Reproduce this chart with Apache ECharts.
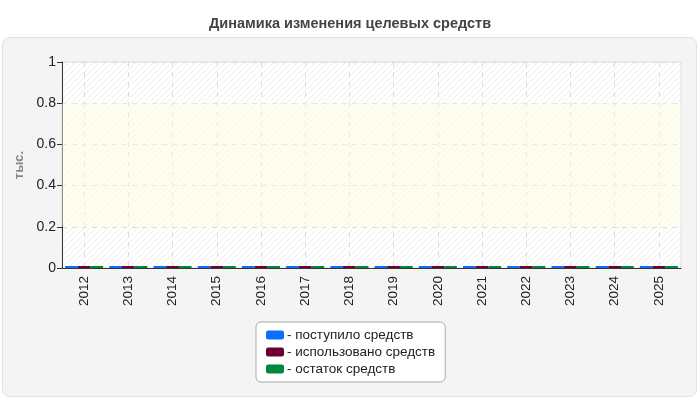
<!DOCTYPE html>
<html><head><meta charset="utf-8">
<script src="https://cdn.jsdelivr.net/npm/echarts@6/dist/echarts.min.js"></script>
<style>html,body{margin:0;padding:0;background:#fff}#c{width:700px;height:400px}</style>
</head><body><div id="c"></div>
<script>
var categories = ['2012','2013','2014','2015','2016','2017','2018','2019','2020','2021','2022','2023','2024','2025'];
var received = [0,0,0,0,0,0,0,0,0,0,0,0,0,0];
var used = [0,0,0,0,0,0,0,0,0,0,0,0,0,0];
var remaining = [0,0,0,0,0,0,0,0,0,0,0,0,0,0];
var seriesNames = ['- поступило средств','- использовано средств','- остаток средств'];
var seriesColors = ['#0d6efd','#6b0033','#00883a'];

var pc = document.createElement('canvas');
pc.width = 6; pc.height = 6;
var g = pc.getContext('2d');
g.fillStyle = '#ffffff'; g.fillRect(0,0,6,6);
g.strokeStyle = '#eeeeee'; g.lineWidth = 1;
g.beginPath();
g.moveTo(0,6); g.lineTo(6,0);
g.moveTo(-3,3); g.lineTo(3,-3);
g.moveTo(3,9); g.lineTo(9,3);
g.stroke();

var font = "'Liberation Sans', Arial, sans-serif";
var chart = echarts.init(document.getElementById('c'), null, {renderer:'canvas'});
function mk(i, data) {
  return {
    name: seriesNames[i], type: 'bar', data: data, barGap: '0%', barCategoryGap: '14%',
    barMinHeight: 2, itemStyle: {color: seriesColors[i]}, silent: true
  };
}
var s0 = mk(0, received);
s0.markArea = {silent: true, itemStyle: {color: 'rgba(252,252,225,0.45)'}, data: [[{yAxis: 0.2}, {yAxis: 0.8}]]};
chart.setOption({
  animation: false,
  textStyle: {fontFamily: font},
  graphic: [{type: 'rect', z: -10, shape: {x: 2.5, y: 37.5, width: 694, height: 359, r: 7},
    style: {fill: '#f4f4f4', stroke: '#e2e2e2', lineWidth: 1}}],
  title: {text: 'Динамика изменения целевых средств', left: 'center', top: 11,
    textStyle: {fontSize: 14.5, fontWeight: 'bold', color: '#444', fontFamily: font}},
  grid: {left: 62, right: 19, top: 62, bottom: 132, show: true,
    backgroundColor: {image: pc, repeat: 'repeat'}, borderColor: '#dddddd', borderWidth: 1},
  legend: {orient: 'vertical', left: 256, top: 322, padding: [6, 10, 6, 10],
    borderColor: '#aaaaaa', borderWidth: 1, borderRadius: 5, backgroundColor: '#ffffff',
    itemWidth: 18, itemHeight: 9, itemGap: 3, icon: 'roundRect',
    textStyle: {fontSize: 13.5, color: '#222', fontFamily: font, padding: [0,0,0,-2]},
    data: seriesNames},
  xAxis: {type: 'category', data: categories,
    axisLine: {lineStyle: {color: '#333'}},
    axisTick: {alignWithLabel: true, length: 5, lineStyle: {color: '#333'}},
    splitLine: {show: true, alignWithLabel: true, lineStyle: {type: [5,5], color: '#dcdcdc'}},
    axisLabel: {rotate: 90, fontSize: 13.5, color: '#222', margin: 8, fontFamily: font}},
  yAxis: {type: 'value', min: 0, max: 1, interval: 0.2,
    name: 'тыс.', nameLocation: 'middle', nameGap: 36, nameRotate: 90,
    nameTextStyle: {fontSize: 13, fontWeight: 'bold', color: '#888', fontFamily: font},
    axisLine: {show: true, lineStyle: {color: '#333'}},
    axisTick: {show: true, length: 5, lineStyle: {color: '#333'}},
    splitLine: {show: true, lineStyle: {type: [5,5], color: '#dcdcdc'}},
    axisLabel: {fontSize: 14, color: '#222', margin: 6, fontFamily: font}},
  series: [s0, mk(1, used), mk(2, remaining)]
});
</script></body></html>
